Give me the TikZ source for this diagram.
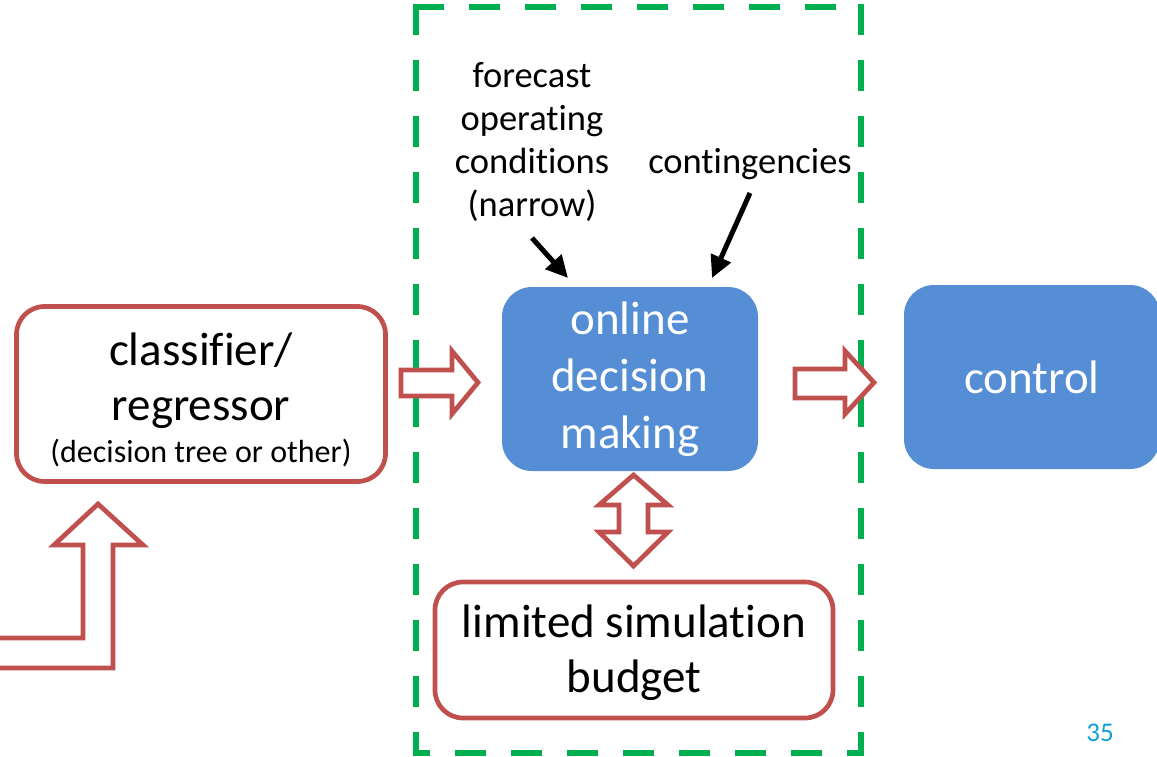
\documentclass[tikz,border=0pt]{standalone}
\usepackage{fontspec}
\setmainfont{Carlito}[Ligatures={NoCommon,NoContextual}]
\usetikzlibrary{arrows.meta}
\definecolor{brick}{HTML}{C0504D}
\definecolor{boxblue}{HTML}{558ED5}
\definecolor{frame}{HTML}{00B050}
\definecolor{slidenum}{HTML}{0FA0DA}

\begin{document}
\begin{tikzpicture}[
  x=1pt,y=-1pt,
  line join=miter,
  redbox/.style={draw=brick,line width=4.7pt,rounded corners=28pt,fill=white,inner sep=0pt},
  bluebox/.style={fill=boxblue,rounded corners=30pt,text=white,align=center,inner sep=0pt,
    minimum width=256pt,minimum height=184pt,font=\fontsize{47}{57}\selectfont},
  boxtext/.style={align=center,inner sep=0pt,font=\fontsize{47}{55}\selectfont},
  hollow/.style={draw=brick,line width=4.7pt,fill=white},
  dashline/.style={draw=frame,line width=6pt,line cap=rect,dash pattern=on 25pt off 31pt},
  pointer/.style={-{Triangle[length=22pt,width=21pt]},line width=5pt},
  note/.style={font=\fontsize{36.5}{43}\selectfont,align=center}
]
\useasboundingbox (0,0) rectangle (1157,757);

% dashed frame round the online part
\draw[dashline] (416,7) -- (861,7);
\draw[dashline] (416,7) -- (416,753);
\draw[dashline] (861,7) -- (861,753);
\draw[dashline,dash phase=14pt] (416,753) -- (861,753);

% boxes
\node[redbox,minimum width=369pt,minimum height=175pt] (clf) at (201,394) {};
\node[boxtext] (clfText) at (201,400)
  {classifier/\\regressor\\[-13pt]\fontsize{32}{38}\selectfont(decision tree or other)};
\node[bluebox] (online) at (630,379) {online\\decision\\making};
\node[bluebox] (control) at (1032,377) {control};
\node[redbox,minimum width=398pt,minimum height=136pt] (budget) at (634,650) {};
\node[boxtext] (budgetText) at (634,653) {limited simulation\\budget};

% inputs from above
\node[note] (forecast) at (532,142) {forecast\\operating\\conditions\\(narrow)};
\node[note,anchor=base] (contin) at (750,174) {contingencies};
\coordinate (fcTail) at (532,238);
\coordinate (fcTip) at (568,278);
\coordinate (ctTail) at (750,193);
\coordinate (ctTip) at (712,278);
\draw[pointer] (fcTail) -- (fcTip);
\draw[pointer] (ctTail) -- (ctTip);

% hollow block arrows
\draw[hollow] (401,370) -- (452,370) -- (452,351) -- (478,382.5)
  -- (452,414) -- (452,396) -- (401,396) -- cycle;
\draw[hollow] (795,369) -- (845,369) -- (845,351) -- (874,382.5)
  -- (845,414) -- (845,398) -- (795,398) -- cycle;
\draw[hollow] (633.5,475) -- (668,505) -- (648,505) -- (648,532) -- (668,532)
  -- (633.5,566) -- (599,532) -- (619,532) -- (619,505) -- (599,505) -- cycle;
\draw[hollow] (-5,638) -- (83,638) -- (83,545) -- (54,545) -- (98,504)
  -- (143,545) -- (113,545) -- (113,668) -- (-5,668);

% slide number
\node[anchor=base,text=slidenum,font=\fontsize{27}{32}\selectfont] (pagenum) at (1100,741) {35};
\end{tikzpicture}
\end{document}
